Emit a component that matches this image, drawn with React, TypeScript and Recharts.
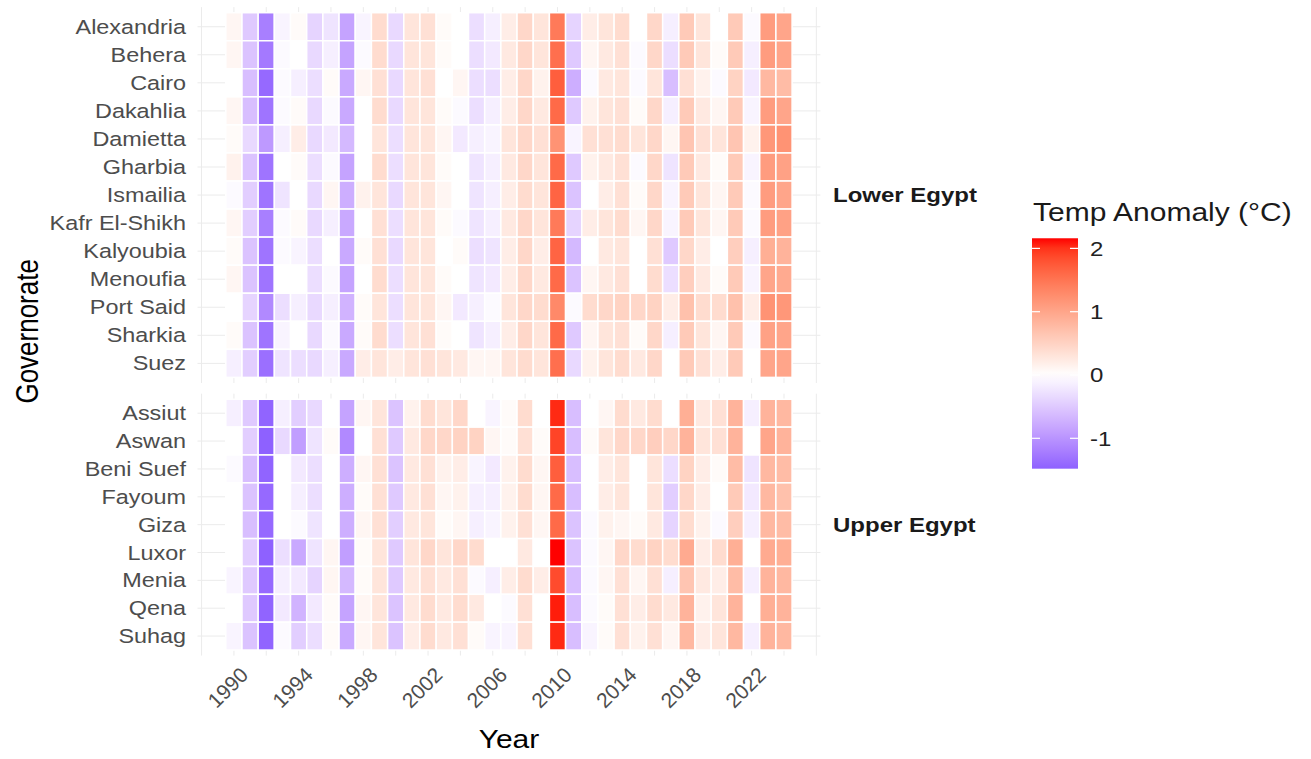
import { ScatterChart, Scatter, XAxis, YAxis, CartesianGrid } from 'recharts';

// years shown on the x axis, one tile per year
const YEARS = [
  1990, 1991, 1992, 1993, 1994, 1995, 1996, 1997, 1998, 1999,
  2000, 2001, 2002, 2003, 2004, 2005, 2006, 2007, 2008, 2009,
  2010, 2011, 2012, 2013, 2014, 2015, 2016, 2017, 2018, 2019,
  2020, 2021, 2022, 2023, 2024,
];
const GRID_YEARS = [
  1988, 1990, 1992, 1994, 1996, 1998, 2000, 2002, 2004, 2006,
  2008, 2010, 2012, 2014, 2016, 2018, 2020, 2022, 2024, 2026,
];
const LABEL_YEARS = [1990, 1994, 1998, 2002, 2006, 2010, 2014, 2018, 2022];
const LEGEND_TICKS = [-1, 0, 1, 2];

const LOWER_GOVS = [
  'Alexandria', 'Behera', 'Cairo', 'Dakahlia', 'Damietta', 'Gharbia', 'Ismailia',
  'Kafr El-Shikh', 'Kalyoubia', 'Menoufia', 'Port Said', 'Sharkia', 'Suez',
];
const UPPER_GOVS = ['Assiut', 'Aswan', 'Beni Suef', 'Fayoum', 'Giza', 'Luxor', 'Menia', 'Qena', 'Suhag'];

// temperature anomaly (°C), 1990..2024
const alexandria = [0.1, -0.5, -1.2, -0.1, 0.05, -0.4, -0.25, -0.85, -0.1, 0.4, -0.35, 0.3, 0.35, 0.05, 0, -0.3, -0.15, 0.2, 0.45, 0.3, 1.45, -0.4, 0.2, 0.3, 0.4, 0, 0.45, -0.15, 0.6, 0.3, 0, 0.6, -0.05, 1.1, 1.0];
const behera = [0.1, -0.55, -1.25, -0.05, 0, -0.35, -0.15, -0.85, -0.05, 0.4, -0.35, 0.3, 0.3, 0.05, 0, -0.3, -0.2, 0.25, 0.45, 0.3, 1.55, -0.5, 0.1, 0.25, 0.35, -0.05, 0.45, -0.3, 0.6, 0.3, 0.05, 0.6, -0.15, 1.1, 1.0];
const cairo = [0, -0.6, -1.4, -0.05, -0.15, -0.3, 0.05, -0.8, 0.1, 0.35, -0.35, 0.3, 0.35, 0, 0.1, -0.3, -0.3, 0.2, 0.45, 0.15, 1.7, -0.75, -0.05, 0.25, 0.3, -0.05, 0.3, -0.6, 0.35, 0.15, -0.05, 0.5, -0.2, 0.8, 0.75];
const dakahlia = [0.1, -0.6, -1.3, -0.05, 0.05, -0.35, -0.05, -0.8, 0, 0.4, -0.35, 0.3, 0.3, 0.05, -0.05, -0.3, -0.15, 0.2, 0.45, 0.25, 1.6, -0.5, 0.15, 0.3, 0.35, 0.05, 0.45, -0.15, 0.6, 0.25, 0.1, 0.6, -0.1, 1.1, 1.0];
const damietta = [0.05, -0.35, -0.95, -0.15, 0.2, -0.35, -0.2, -0.65, 0, 0.3, -0.3, 0.3, 0.3, 0.1, -0.2, -0.15, -0.1, 0.3, 0.45, 0.35, 1.2, -0.1, 0.35, 0.35, 0.4, 0.3, 0.45, 0.1, 0.65, 0.35, 0.3, 0.65, 0.15, 1.15, 1.2];
const gharbia = [0.15, -0.55, -1.3, 0, 0.05, -0.3, -0.05, -0.85, 0, 0.4, -0.3, 0.3, 0.3, 0.05, 0, -0.25, -0.15, 0.25, 0.45, 0.3, 1.6, -0.5, 0.15, 0.25, 0.35, -0.05, 0.45, -0.25, 0.6, 0.25, 0.05, 0.6, -0.1, 1.1, 1.05];
const ismailia = [-0.05, -0.45, -1.3, -0.25, 0, -0.35, 0.1, -0.75, 0.15, 0.3, -0.35, 0.3, 0.3, 0.1, 0, -0.25, -0.15, 0.2, 0.4, 0.3, 1.65, -0.55, 0, 0.2, 0.35, 0.05, 0.45, -0.1, 0.6, 0.3, 0.1, 0.6, -0.05, 1.1, 1.0];
const kafrElShikh = [0.1, -0.45, -1.2, -0.05, 0.05, -0.35, -0.15, -0.8, 0, 0.35, -0.3, 0.3, 0.3, 0.05, -0.05, -0.25, -0.15, 0.25, 0.45, 0.3, 1.45, -0.4, 0.2, 0.3, 0.4, 0.1, 0.45, -0.1, 0.6, 0.3, 0.1, 0.6, -0.05, 1.1, 1.05];
const kalyoubia = [0.05, -0.55, -1.3, -0.05, -0.1, -0.3, 0, -0.8, 0.05, 0.35, -0.35, 0.3, 0.3, 0, 0.05, -0.3, -0.25, 0.2, 0.45, 0.2, 1.65, -0.65, 0, 0.25, 0.3, 0, 0.35, -0.5, 0.45, 0.2, 0, 0.55, -0.15, 0.9, 0.85];
const menoufia = [0.1, -0.55, -1.3, 0, 0, -0.3, -0.05, -0.85, 0, 0.4, -0.3, 0.3, 0.3, 0.05, 0, -0.25, -0.2, 0.2, 0.45, 0.25, 1.6, -0.55, 0.1, 0.25, 0.35, 0, 0.4, -0.3, 0.55, 0.25, 0.05, 0.6, -0.1, 1.0, 0.95];
const portSaid = [0, -0.4, -1.1, -0.3, -0.15, -0.35, -0.15, -0.7, 0.05, 0.3, -0.3, 0.3, 0.3, 0.1, -0.2, -0.15, -0.05, 0.3, 0.45, 0.4, 1.3, -0.05, 0.4, 0.45, 0.5, 0.45, 0.5, 0.2, 0.7, 0.4, 0.4, 0.7, 0.2, 1.2, 1.15];
const sharkia = [0.05, -0.55, -1.3, -0.1, 0, -0.35, -0.05, -0.8, 0.05, 0.4, -0.3, 0.3, 0.35, 0.05, 0, -0.25, -0.15, 0.2, 0.45, 0.3, 1.6, -0.5, 0.1, 0.3, 0.35, 0.05, 0.45, -0.15, 0.6, 0.3, 0.1, 0.6, -0.05, 1.05, 1.0];
const suez = [-0.15, -0.45, -1.35, -0.25, -0.3, -0.35, -0.15, -0.8, 0.2, 0.3, 0.2, 0.3, 0.35, 0.3, 0.25, 0.1, 0.1, 0.3, 0.4, 0.3, 1.55, -0.35, 0.15, 0.3, 0.4, 0.25, 0.45, 0, 0.6, 0.35, 0.2, 0.6, 0, 1.0, 1.0];

const assiut = [-0.15, -0.5, -1.45, -0.15, -0.45, -0.35, 0, -0.85, 0.1, 0.3, -0.55, 0.15, 0.4, 0.3, 0.45, 0, -0.1, 0.05, 0.4, 0, 2.05, -0.6, 0, 0.1, 0.4, 0.25, 0.4, 0, 0.9, 0.25, 0.35, 0.85, -0.15, 0.85, 0.8];
const aswan = [0, -0.45, -1.48, -0.35, -0.9, -0.25, 0.05, -1.1, 0, 0.35, -0.5, 0.25, 0.45, 0.45, 0.5, 0.5, 0.1, 0.05, 0.35, 0.05, 1.9, -0.6, 0.05, 0.3, 0.45, 0.45, 0.55, 0.45, 0.85, 0.3, 0.35, 0.85, 0, 1.0, 0.85];
const beniSuef = [-0.05, -0.6, -1.45, 0, -0.2, -0.3, 0, -0.75, 0.1, 0.35, -0.55, 0.25, 0.35, 0.15, 0.2, -0.1, -0.2, 0.15, 0.4, 0.1, 1.7, -0.6, 0, 0.2, 0.3, 0, 0.3, -0.3, 0.5, 0.2, 0.05, 0.75, -0.25, 0.8, 0.75];
const fayoum = [0, -0.55, -1.4, 0, -0.15, -0.3, 0, -0.75, 0.05, 0.35, -0.5, 0.25, 0.35, 0.1, 0.15, -0.15, -0.15, 0.15, 0.4, 0.1, 1.6, -0.6, 0, 0.2, 0.3, 0, 0.3, -0.45, 0.45, 0.2, 0, 0.6, -0.2, 0.8, 0.7];
const giza = [0, -0.6, -1.4, 0, -0.05, -0.25, 0, -0.75, 0.1, 0.35, -0.45, 0.25, 0.3, 0.05, 0.1, -0.15, -0.1, 0.15, 0.35, 0.1, 1.6, -0.55, -0.05, 0.15, 0.1, 0.05, 0.25, -0.4, 0.4, 0.15, -0.05, 0.55, -0.15, 0.8, 0.75];
const luxor = [0, -0.45, -1.48, -0.3, -0.8, -0.25, 0.1, -0.9, 0.05, 0.3, -0.5, 0.3, 0.45, 0.3, 0.45, 0.4, 0, 0, 0.25, 0, 2.16, -0.55, -0.05, 0.1, 0.45, 0.4, 0.5, 0.4, 0.95, 0.2, 0.4, 0.9, 0, 0.95, 0.9];
const menia = [-0.1, -0.5, -1.4, -0.15, -0.2, -0.4, 0.1, -0.65, 0.05, 0.3, -0.5, 0.25, 0.35, 0.25, 0.35, -0.05, -0.15, 0.2, 0.4, 0.2, 1.85, -0.6, -0.05, 0.1, 0.35, 0.1, 0.35, -0.15, 0.65, 0.25, 0.2, 0.75, -0.15, 0.85, 0.8];
const qena = [0, -0.5, -1.45, -0.2, -0.7, -0.2, 0.05, -0.85, 0.1, 0.3, -0.55, 0.25, 0.4, 0.25, 0.4, 0.25, 0, -0.05, 0.35, 0, 2.1, -0.6, -0.05, 0.05, 0.35, 0.2, 0.4, 0.25, 0.85, 0.15, 0.3, 0.85, 0, 0.9, 0.85];
const suhag = [-0.1, -0.55, -1.45, -0.05, -0.45, -0.3, 0.05, -0.8, 0.1, 0.3, -0.55, 0.2, 0.4, 0.25, 0.35, 0.05, -0.1, -0.1, 0.35, 0, 2.05, -0.6, -0.1, 0.05, 0.35, 0.15, 0.35, 0.1, 0.8, 0.2, 0.3, 0.8, -0.15, 0.85, 0.8];

const LOWER_VALUES = [alexandria, behera, cairo, dakahlia, damietta, gharbia, ismailia, kafrElShikh, kalyoubia, menoufia, portSaid, sharkia, suez];
const UPPER_VALUES = [assiut, aswan, beniSuef, fayoum, giza, luxor, menia, qena, suhag];

const FONT = '"Liberation Sans", Arial, sans-serif';
const SX = 1.2; // the picture is a little wider than tall
const AXIS_GREY = '#4D4D4D';
const GRID = '#EBEBEB';

const CHART_W = 830;
const PLOT_LEFT = 197.5;
const PLOT_RIGHT = 820.4;
const X_DOMAIN: [number, number] = [1987.75, 2026.25];
const COL_W = (PLOT_RIGHT - PLOT_LEFT) / (X_DOMAIN[1] - X_DOMAIN[0]);

// colour scale: white -> red / white -> blue, interpolated in Lab like ggplot's gradient2
const ALL = [...LOWER_VALUES, ...UPPER_VALUES].flat();
const V_MIN = Math.min(...ALL);
const V_MAX = Math.max(...ALL);
const SCALE_MAX = Math.max(Math.abs(V_MIN), Math.abs(V_MAX));

function toLin(c: number) {
  c /= 255;
  return c <= 0.04045 ? c / 12.92 : Math.pow((c + 0.055) / 1.055, 2.4);
}
function fromLin(c: number) {
  const v = c <= 0.0031308 ? 12.92 * c : 1.055 * Math.pow(c, 1 / 2.4) - 0.055;
  return Math.round(Math.max(0, Math.min(1, v)) * 255);
}
function rgbToLab(rgb: number[]) {
  const [r, g, b] = rgb.map(toLin);
  const x = (0.4124 * r + 0.3576 * g + 0.1805 * b) / 0.95047;
  const y = 0.2126 * r + 0.7152 * g + 0.0722 * b;
  const z = (0.0193 * r + 0.1192 * g + 0.9505 * b) / 1.08883;
  const f = (t: number) => (t > 0.008856 ? Math.cbrt(t) : 7.787 * t + 16 / 116);
  return [116 * f(y) - 16, 500 * (f(x) - f(y)), 200 * (f(y) - f(z))];
}
function labToRgb([L, a, b]: number[]) {
  const fy = (L + 16) / 116;
  const fx = fy + a / 500;
  const fz = fy - b / 200;
  const inv = (t: number) => (t * t * t > 0.008856 ? t * t * t : (t - 16 / 116) / 7.787);
  const x = inv(fx) * 0.95047;
  const y = inv(fy);
  const z = inv(fz) * 1.08883;
  const r = 3.2406 * x - 1.5372 * y - 0.4986 * z;
  const g = -0.9689 * x + 1.8758 * y + 0.0415 * z;
  const bl = 0.0557 * x - 0.204 * y + 1.057 * z;
  return `rgb(${fromLin(r)},${fromLin(g)},${fromLin(bl)})`;
}
const WHITE_LAB = rgbToLab([255, 255, 255]);
const RED_LAB = rgbToLab([255, 0, 0]);
const BLUE_LAB = rgbToLab([0, 0, 255]);

function fillFor(v: number) {
  const t = Math.min(1, Math.abs(v) / SCALE_MAX);
  const end = v >= 0 ? RED_LAB : BLUE_LAB;
  return labToRgb(WHITE_LAB.map((w, i) => w + (end[i] - w) * t));
}

function YTick({ x, y, payload, names }: any) {
  const name = names[payload.value];
  if (name === undefined) return null;
  return (
    <g transform={`translate(${x - 11.5},${y}) scale(${SX},1)`}>
      <text x={0} y={0} dy="0.36em" textAnchor="end" fontSize={19.5} fill={AXIS_GREY} fontFamily={FONT}>
        {name}
      </text>
    </g>
  );
}

function XTick({ x, y, payload }: any) {
  if (!LABEL_YEARS.includes(payload.value)) return null;
  return (
    <g transform={`translate(${x + 5},${y + 10}) rotate(-45)`}>
      <text x={0} y={0} dy="0.72em" textAnchor="end" fontSize={21} fill={AXIS_GREY} fontFamily={FONT}>
        {payload.value}
      </text>
    </g>
  );
}

interface PanelProps {
  govs: string[];
  values: number[][];
  top: number;
  marginTop: number;
  plotH: number;
  showX: boolean;
}

function Panel({ govs, values, top, marginTop, plotH, showX }: PanelProps) {
  const n = govs.length;
  const yDomain: [number, number] = [-0.7, n - 0.3];
  const rowH = plotH / (yDomain[1] - yDomain[0]);
  const xAxisH = showX ? 100 : 0;
  const data = values.flatMap((row, r) => row.map((v, i) => ({ year: YEARS[i], row: r, value: v })));

  return (
    <div style={{ position: 'absolute', left: 0, top }}>
      <ScatterChart
        width={CHART_W}
        height={marginTop + plotH + xAxisH}
        margin={{ top: marginTop, right: CHART_W - PLOT_RIGHT, bottom: 0, left: 0 }}
      >
        <CartesianGrid
          stroke={GRID}
          strokeWidth={1}
          horizontalCoordinatesGenerator={({ offset }: any) =>
            govs.map((_, i) => offset.top + (i - yDomain[0]) * rowH)
          }
          verticalCoordinatesGenerator={({ offset }: any) =>
            GRID_YEARS.map((yr) => offset.left + (yr - X_DOMAIN[0]) * COL_W)
          }
        />
        <XAxis
          type="number"
          dataKey="year"
          domain={X_DOMAIN}
          ticks={GRID_YEARS}
          interval={0}
          allowDataOverflow
          height={xAxisH}
          axisLine={false}
          tickLine={false}
          tickSize={0}
          tickMargin={0}
          tick={showX ? <XTick /> : false}
        />
        <YAxis
          type="number"
          dataKey="row"
          domain={yDomain}
          reversed
          ticks={govs.map((_, i) => i)}
          interval={0}
          allowDataOverflow
          width={PLOT_LEFT}
          axisLine={false}
          tickLine={false}
          tickSize={0}
          tickMargin={0}
          tick={<YTick names={govs} />}
        />
        <Scatter
          data={data}
          isAnimationActive={false}
          shape={(p: any) => (
            <rect
              x={p.cx - COL_W / 2}
              y={p.cy - rowH / 2}
              width={COL_W}
              height={rowH}
              fill={fillFor(p.payload.value)}
              stroke="#FFFFFF"
              strokeWidth={1.5}
            />
          )}
        />
      </ScatterChart>
    </div>
  );
}

// colourbar geometry
const LEG_X = 1032;
const LEG_W = 46;
const LEG_ZERO = 375;
const LEG_UNIT = 63.3;
const legY = (v: number) => LEG_ZERO - v * LEG_UNIT;

function ColourBar() {
  const stops = Array.from({ length: 25 }, (_, i) => i / 24);
  return (
    <g>
      <defs>
        <linearGradient id="anomaly" x1="0" y1="0" x2="0" y2="1">
          {stops.map((o) => (
            <stop key={o} offset={o} stopColor={fillFor(V_MAX - (V_MAX - V_MIN) * o)} />
          ))}
        </linearGradient>
      </defs>
      <text
        transform={`translate(1033,221) scale(${SX},1)`}
        fontSize={25}
        fill="#1A1A1A"
        fontFamily={FONT}
      >
        Temp Anomaly (°C)
      </text>
      <rect x={LEG_X} y={legY(V_MAX)} width={LEG_W} height={legY(V_MIN) - legY(V_MAX)} fill="url(#anomaly)" />
      {LEGEND_TICKS.map((t) => (
        <g key={t}>
          <line x1={LEG_X} x2={LEG_X + 8} y1={legY(t)} y2={legY(t)} stroke="#FFFFFF" strokeWidth={1.2} />
          <line x1={LEG_X + LEG_W - 8} x2={LEG_X + LEG_W} y1={legY(t)} y2={legY(t)} stroke="#FFFFFF" strokeWidth={1.2} />
          <text
            transform={`translate(${LEG_X + 58},${legY(t)}) scale(${SX},1)`}
            dy="0.36em"
            fontSize={20}
            fill="#222222"
            fontFamily={FONT}
          >
            {t}
          </text>
        </g>
      ))}
    </g>
  );
}

export default function App() {
  const topPlotH = 375.9;
  const topMargin = 7.1;
  const botTop = 380;
  const botMargin = 13.7;
  const botPlotH = 261.9;
  const topMid = topMargin + topPlotH / 2;
  const botMid = botTop + botMargin + botPlotH / 2;

  return (
    <div
      style={{
        position: 'absolute',
        left: 0,
        top: 0,
        width: 1311,
        height: 759,
        background: '#FFFFFF',
        fontFamily: FONT,
        overflow: 'hidden',
      }}
    >
      <Panel govs={LOWER_GOVS} values={LOWER_VALUES} top={0} marginTop={topMargin} plotH={topPlotH} showX={false} />
      <Panel govs={UPPER_GOVS} values={UPPER_VALUES} top={botTop} marginTop={botMargin} plotH={botPlotH} showX />
      <svg width={1311} height={759} style={{ position: 'absolute', left: 0, top: 0, pointerEvents: 'none' }}>
        <text
          transform={`translate(833,${topMid}) scale(${SX},1)`}
          dy="0.36em"
          fontSize={20}
          fontWeight="bold"
          fill="#1A1A1A"
          fontFamily={FONT}
        >
          Lower Egypt
        </text>
        <text
          transform={`translate(833,${botMid}) scale(${SX},1)`}
          dy="0.36em"
          fontSize={20}
          fontWeight="bold"
          fill="#1A1A1A"
          fontFamily={FONT}
        >
          Upper Egypt
        </text>
        <text
          transform={`translate(${(PLOT_LEFT + PLOT_RIGHT) / 2},748) scale(${SX},1)`}
          textAnchor="middle"
          fontSize={25}
          fill="#000000"
          fontFamily={FONT}
        >
          Year
        </text>
        <text
          transform={`translate(38,${(topMargin + botTop + botMargin + botPlotH) / 2}) scale(${SX},1) rotate(-90)`}
          textAnchor="middle"
          fontSize={26}
          fill="#000000"
          fontFamily={FONT}
        >
          Governorate
        </text>
        <ColourBar />
      </svg>
    </div>
  );
}
